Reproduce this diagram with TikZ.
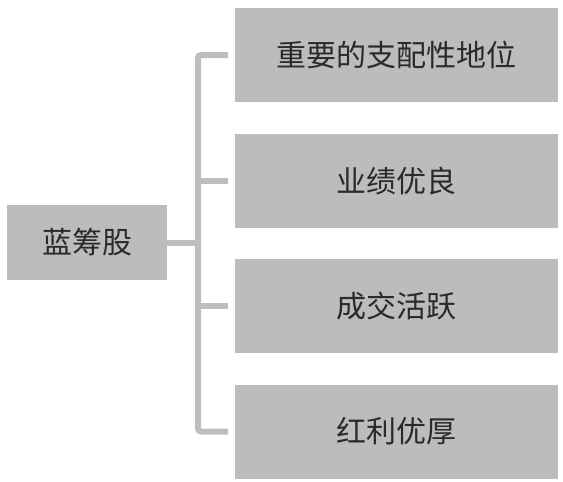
\documentclass[tikz,border=0pt]{standalone}
\usepackage{fontspec}
\newfontfamily\cjk{Noto Sans CJK SC}
\definecolor{boxgray}{HTML}{BDBBBC}
\definecolor{linegray}{HTML}{BEBEBE}
\definecolor{txt}{HTML}{2A2A2A}
\begin{document}
\begin{tikzpicture}[x=1pt,y=-1pt,
  graybox/.style={fill=boxgray,draw=none,inner sep=0pt,font=\cjk\fontsize{30}{33}\selectfont,text=txt},
  bracket/.style={draw=linegray,line width=6pt,rounded corners=3pt}]
\useasboundingbox (0,0) rectangle (563,482);
\node[graybox,minimum width=160pt,minimum height=75pt] (root) at (87,242.5) {蓝筹股};
\node[graybox,minimum width=323pt,minimum height=94pt] (a) at (396.5,55) {重要的支配性地位};
\node[graybox,minimum width=323pt,minimum height=94pt] (b) at (396.5,181) {业绩优良};
\node[graybox,minimum width=323pt,minimum height=94pt] (c) at (396.5,306) {成交活跃};
\node[graybox,minimum width=323pt,minimum height=94pt] (d) at (396.5,431.5) {红利优厚};
\coordinate (sa) at (228,55);
\coordinate (sd) at (228,431.5);
\coordinate (sb) at (228,181);
\coordinate (sc) at (228,306);
\coordinate (va) at (198,55);
\coordinate (vb) at (198,181);
\coordinate (vc) at (198,306);
\coordinate (vr) at (198,242.5);
\draw[bracket] (sa) -- (va) -- (198,431.5) -- (sd);
\draw[draw=linegray,line width=6pt] (vb) -- (sb);
\draw[draw=linegray,line width=6pt] (vc) -- (sc);
\draw[draw=linegray,line width=6pt] (root.east) -- (vr);
\end{tikzpicture}
\end{document}
